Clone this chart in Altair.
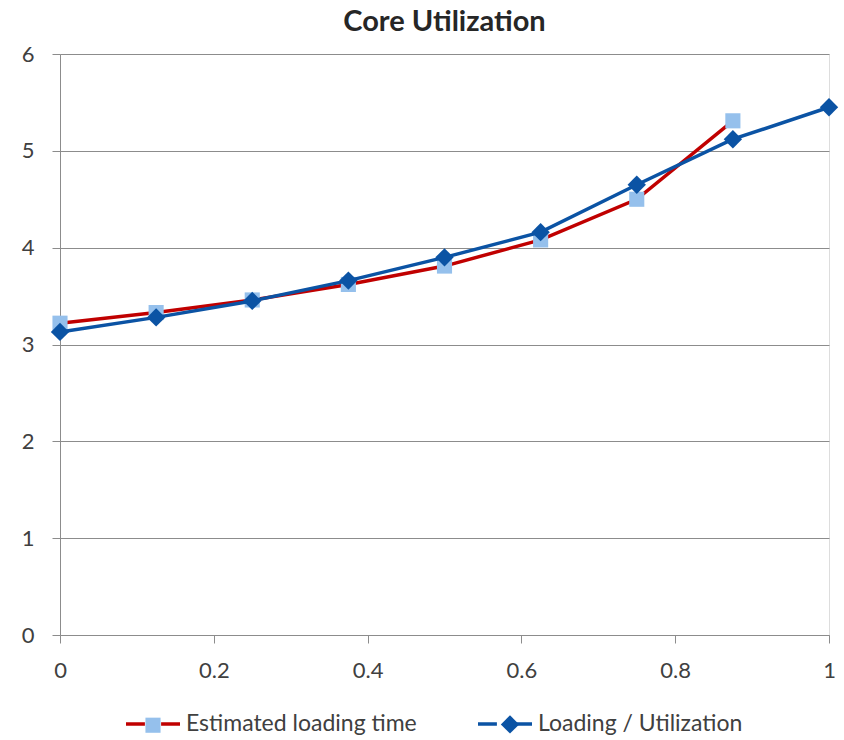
import altair as alt
import pandas as pd

# Core utilization measurements
util_x = [0, 0.125, 0.25, 0.375, 0.5, 0.625, 0.75, 0.875, 1.0]
estimated_time = [3.22, 3.33, 3.46, 3.62, 3.81, 4.08, 4.50, 5.31]
loading_util = [3.13, 3.28, 3.45, 3.66, 3.90, 4.16, 4.65, 5.12, 5.45]

series_names = ["Estimated loading time", "Loading / Utilization"]
line_colors = ["#C00000", "#0B53A4"]
marker_colors = ["#95C0EC", "#0B53A4"]

# Marker paths inside the [-1, 1] symbol box, so that the same symbol size
# gives a wide legend entry and a small marker on the plot.
square_path = "M-0.28,-0.28H0.28V0.28H-0.28Z"
diamond_path = "M0,-0.34L0.34,0L0,0.34L-0.34,0Z"
legend_line_path = "M-1,0H-0.3M0.3,0H1"
SYMBOL_SIZE = 2916

rows = []
for x, v in zip(util_x, estimated_time):
    rows.append({"x": x, "y": v, "series": series_names[0]})
for x, v in zip(util_x, loading_util):
    rows.append({"x": x, "y": v, "series": series_names[1]})
df = pd.DataFrame(rows)
df["marker"] = df["series"]

FONT = "Lato"
LABEL_SIZE = 22

x_enc = alt.X(
    "x:Q",
    scale=alt.Scale(domain=[0, 1], nice=False),
    axis=alt.Axis(
        values=[0, 0.2, 0.4, 0.6, 0.8, 1.0],
        labelExpr="datum.value == 0 ? '0' : datum.value == 1 ? '1' : format(datum.value, '.1f')",
        labelFlush=False,
        grid=False,
        title=None,
        domainColor="#8C8C8C",
        tickColor="#8C8C8C",
        tickSize=8,
        labelPadding=17,
        labelFont=FONT,
        labelFontSize=LABEL_SIZE,
        labelColor="#404040",
    ),
)
y_enc = alt.Y(
    "y:Q",
    scale=alt.Scale(domain=[0, 6], nice=False),
    axis=alt.Axis(
        values=[0, 1, 2, 3, 4, 5, 6],
        format="d",
        grid=True,
        gridColor="#8C8C8C",
        title=None,
        domainColor="#8C8C8C",
        tickColor="#8C8C8C",
        tickSize=8,
        labelPadding=18,
        labelFont=FONT,
        labelFontSize=LABEL_SIZE,
        labelColor="#404040",
    ),
)

legend_common = dict(
    orient="none",
    direction="horizontal",
    columns=2,
    legendX=64,
    legendY=641,
    title=None,
    symbolSize=SYMBOL_SIZE,
    symbolStrokeWidth=3.5,
    labelFont=FONT,
    labelFontSize=23,
    labelColor="#404040",
    labelLimit=0,
    labelOffset=4,
    padding=0,
)

# Line legend carries the labels; the marker legend sits on top of it with
# empty labels and a wider column gap so its symbols land on the line gaps.
stroke_enc = alt.Stroke(
    "series:N",
    scale=alt.Scale(range=line_colors),
    legend=alt.Legend(
        symbolType=legend_line_path,
        columnPadding=54,
        **legend_common,
    ),
)
marker_legend = alt.Legend(
    symbolStrokeColor="transparent",
    labelExpr="''",
    columnPadding=295,
    **legend_common,
)
fill_enc = alt.Fill(
    "marker:N",
    scale=alt.Scale(range=marker_colors),
    legend=marker_legend,
)
shape_enc = alt.Shape(
    "marker:N",
    scale=alt.Scale(range=[square_path, diamond_path]),
    legend=marker_legend,
)

base = alt.Chart(df)


def line_layer(name):
    return (
        base.transform_filter(alt.datum.series == name)
        .mark_line(strokeWidth=3.5)
        .encode(x=x_enc, y=y_enc, stroke=stroke_enc)
    )


def point_layer(name):
    return (
        base.transform_filter(alt.datum.series == name)
        .mark_point(filled=True, size=SYMBOL_SIZE, opacity=1, strokeWidth=0)
        .encode(x=x_enc, y=y_enc, fill=fill_enc, shape=shape_enc)
    )


chart = (
    alt.layer(
        line_layer(series_names[0]),
        point_layer(series_names[0]),
        line_layer(series_names[1]),
        point_layer(series_names[1]),
    )
    .properties(
        width=769,
        height=581,
        title=alt.TitleParams(
            "Core Utilization",
            font=FONT,
            fontSize=29,
            fontWeight="bold",
            color="#262626",
            anchor="middle",
            offset=6,
        ),
        padding={"left": 60, "top": 54, "right": 15, "bottom": 105},
        autosize=alt.AutoSizeParams(type="none"),
    )
    .configure_view(stroke=None)
    .configure(background="white")
)

chart.save("out.html", embed_options={"renderer": "svg", "actions": False})
